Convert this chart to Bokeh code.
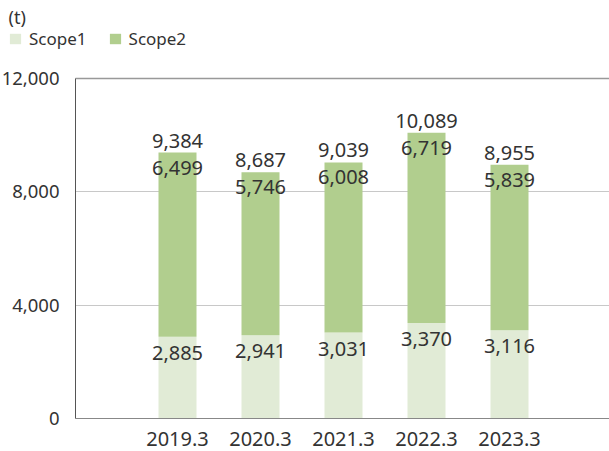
from bokeh.plotting import figure
from bokeh.models import (ColumnDataSource, Range1d, FixedTicker, Grid, LinearAxis,
                          Legend, LegendItem, Label, LabelSet, NumeralTickFormatter)
from bokeh.core.properties import value
from bokeh.embed import file_html
from bokeh.resources import INLINE

years = ["2019.3", "2020.3", "2021.3", "2022.3", "2023.3"]
scope1 = [2885, 2941, 3031, 3370, 3116]
scope2 = [6499, 5746, 6008, 6719, 5839]
totals = [9384, 8687, 9039, 10089, 8955]
series = ["Scope1", "Scope2"]
y_ticks = [0, 4000, 8000, 12000]
unit = "(t)"

C1 = "#e1ebd6"
C2 = "#b1ce8e"
TXT = "#333333"
FONT = "Noto Sans"

W, H = 609, 451
# layout geometry (pixels)
PLOT_L, PLOT_T, PLOT_B = 75, 78, 418
FIRST_C, STEP = 177, 83

xpos = list(range(len(years)))
xs = -FIRST_C / STEP
xe = xs + W / STEP
x_left = xs + PLOT_L / STEP
ymax = y_ticks[-1]
upp = ymax / (PLOT_B - PLOT_T)
ys = -(H - PLOT_B) * upp
ye = ymax + PLOT_T * upp

src = ColumnDataSource(dict(
    x=xpos, s1=scope1, s2=scope2, tot=totals,
    s1lab=[f"{v:,}" for v in scope1],
    s2lab=[f"{v:,}" for v in scope2],
    totlab=[f"{v:,}" for v in totals],
))

p = figure(width=W, height=H, output_backend="svg", toolbar_location=None,
           title_location=None, x_axis_location=None, y_axis_location=None,
           x_range=Range1d(xs, xe), y_range=Range1d(ys, ye), min_border=0)
p.outline_line_color = None
p.background_fill_color = "white"
for g in list(p.grid):
    g.visible = False

# grids
p.add_layout(Grid(dimension=1, ticker=FixedTicker(ticks=y_ticks[1:3]),
                  cross_bounds=(x_left, xe), grid_line_color="#c8c8c8"))
p.add_layout(Grid(dimension=1, ticker=FixedTicker(ticks=y_ticks[3:]),
                  cross_bounds=(x_left, xe), grid_line_color="#999999", grid_line_width=1.3))

rs = p.vbar_stack(["s1", "s2"], x="x", width=38 / STEP, color=[C1, C2], source=src,
                  line_color=None)

yaxis = LinearAxis(fixed_location=x_left, bounds=(0, ymax),
                   ticker=FixedTicker(ticks=y_ticks),
                   formatter=NumeralTickFormatter(format="0,0"),
                   axis_line_color="#555555", major_tick_line_color=None,
                   minor_tick_line_color=None, major_label_text_font=FONT,
                   major_label_text_font_size="18.5px", major_label_text_color=TXT,
                   major_label_standoff=10)
p.add_layout(yaxis, "left")

xaxis = LinearAxis(fixed_location=0, bounds=(x_left, xe),
                   ticker=FixedTicker(ticks=xpos),
                   major_label_overrides={i: y for i, y in zip(xpos, years)},
                   axis_line_color="#888888", major_tick_line_color=None,
                   minor_tick_line_color=None, major_label_text_font=FONT,
                   major_label_text_font_size="20px", major_label_text_color=TXT,
                   major_label_standoff=7)
p.add_layout(xaxis, "below")

common = dict(source=src, x="x", text_align="center", text_baseline="middle",
              text_font_size="20px", text_color=TXT, text_font=value(FONT))
p.add_layout(LabelSet(y="s1", text="s1lab", y_offset=-16, **common))
p.add_layout(LabelSet(y="tot", text="s2lab", y_offset=-15, **common))
p.add_layout(LabelSet(y="tot", text="totlab", y_offset=12, **common))

legend = Legend(items=[LegendItem(label=series[0], renderers=[rs[0]]),
                       LegendItem(label=series[1], renderers=[rs[1]])],
                orientation="horizontal", location=(8, H - 50),
                glyph_width=14, glyph_height=13, spacing=21, padding=0, margin=0,
                label_text_font=FONT, label_text_font_size="17px", label_text_color=TXT,
                label_standoff=7, border_line_color=None, background_fill_alpha=0)
p.add_layout(legend, "center")

p.add_layout(Label(x=8, y=H - 4, x_units="screen", y_units="screen", text=unit,
                   text_baseline="top", text_font=FONT, text_font_size="18px",
                   text_color=TXT))

open("out.html", "w").write(file_html(p, INLINE))
